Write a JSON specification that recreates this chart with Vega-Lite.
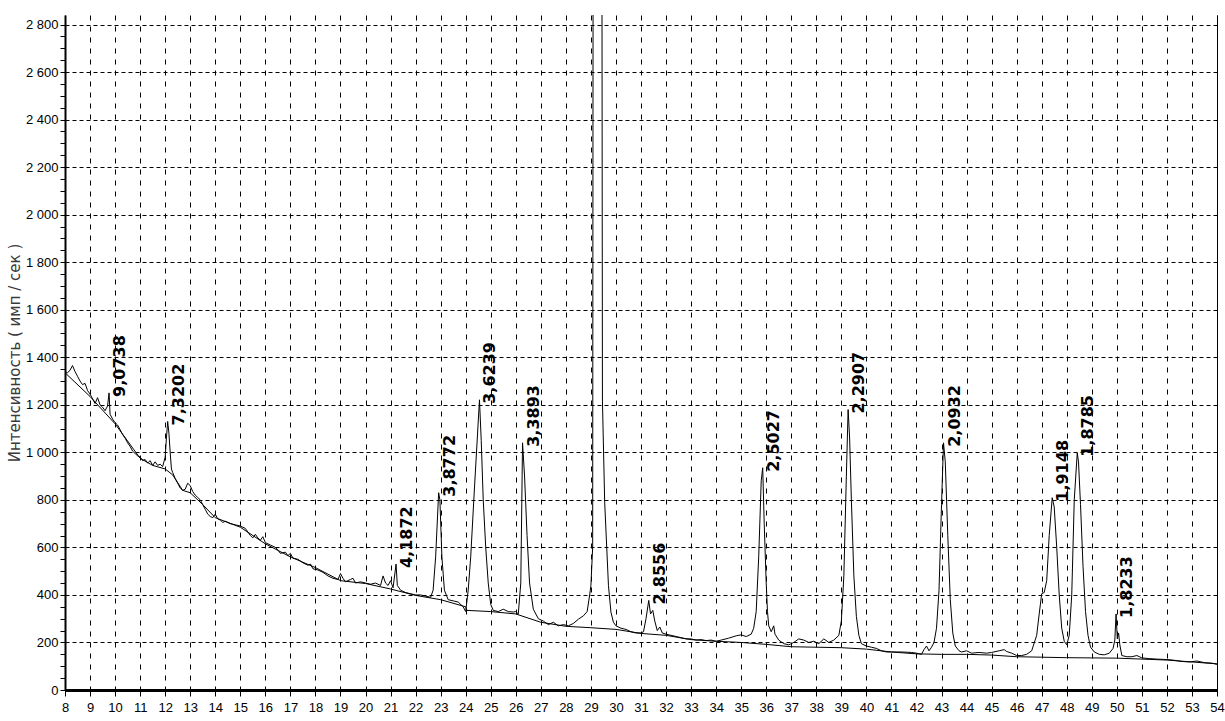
{
  "$schema": "https://vega.github.io/schema/vega-lite/v6.json",
  "width": 1152,
  "height": 675,
  "autosize": {"type": "none"},
  "padding": {"left": 65, "top": 15, "right": 8, "bottom": 31},
  "background": "white",
  "config": {"view": {"stroke": null}, "font": "Liberation Sans"},
  "datasets": {
    "scan": [
      {"x":8.0,"y":1340},{"x":8.1,"y":1335},{"x":8.2,"y":1345},{"x":8.3,"y":1365},{"x":8.4,"y":1340},{"x":8.5,"y":1320},{"x":8.6,"y":1300},{"x":8.7,"y":1285},{"x":8.8,"y":1290},{"x":8.9,"y":1260},
      {"x":9.0,"y":1245},{"x":9.1,"y":1225},{"x":9.2,"y":1205},{"x":9.3,"y":1230},{"x":9.4,"y":1200},{"x":9.5,"y":1190},{"x":9.6,"y":1175},{"x":9.7,"y":1195},{"x":9.76,"y":1250},{"x":9.8,"y":1160},{"x":9.9,"y":1140},
      {"x":10.0,"y":1125},{"x":10.1,"y":1115},{"x":10.2,"y":1095},{"x":10.3,"y":1075},{"x":10.4,"y":1060},{"x":10.5,"y":1040},{"x":10.6,"y":1025},{"x":10.7,"y":1005},{"x":10.8,"y":995},{"x":10.9,"y":985},
      {"x":11.0,"y":980},{"x":11.1,"y":965},{"x":11.2,"y":970},{"x":11.3,"y":955},{"x":11.4,"y":965},{"x":11.5,"y":945},{"x":11.6,"y":960},{"x":11.7,"y":945},{"x":11.8,"y":950},{"x":11.9,"y":940},
      {"x":12.0,"y":980},{"x":12.05,"y":1060},{"x":12.1,"y":1130},{"x":12.15,"y":1080},{"x":12.2,"y":1000},{"x":12.25,"y":930},{"x":12.3,"y":915},{"x":12.4,"y":890},{"x":12.5,"y":870},{"x":12.6,"y":850},{"x":12.7,"y":840},{"x":12.8,"y":845},{"x":12.9,"y":870},
      {"x":13.0,"y":860},{"x":13.1,"y":835},{"x":13.2,"y":820},{"x":13.3,"y":810},{"x":13.4,"y":800},{"x":13.5,"y":780},{"x":13.6,"y":760},{"x":13.7,"y":740},{"x":13.8,"y":730},{"x":13.9,"y":725},
      {"x":14.0,"y":740},{"x":14.1,"y":720},{"x":14.2,"y":715},{"x":14.3,"y":705},{"x":14.4,"y":710},{"x":14.6,"y":700},{"x":14.8,"y":695},{"x":15.0,"y":690},{"x":15.2,"y":680},{"x":15.3,"y":665},{"x":15.4,"y":650},{"x":15.5,"y":640},{"x":15.6,"y":655},{"x":15.7,"y":640},{"x":15.8,"y":630},{"x":15.9,"y":645},
      {"x":16.0,"y":620},{"x":16.2,"y":610},{"x":16.4,"y":600},{"x":16.5,"y":590},{"x":16.6,"y":575},{"x":16.8,"y":580},{"x":16.9,"y":565},{"x":17.0,"y":575},{"x":17.1,"y":555},{"x":17.3,"y":550},{"x":17.5,"y":535},{"x":17.7,"y":525},{"x":17.8,"y":530},{"x":17.9,"y":510},
      {"x":18.1,"y":505},{"x":18.3,"y":495},{"x":18.5,"y":480},{"x":18.7,"y":470},{"x":18.9,"y":465},{"x":19.0,"y":490},{"x":19.1,"y":470},{"x":19.2,"y":455},{"x":19.4,"y":465},{"x":19.5,"y":470},{"x":19.6,"y":450},{"x":19.8,"y":455},
      {"x":20.0,"y":450},{"x":20.2,"y":445},{"x":20.4,"y":450},{"x":20.6,"y":440},{"x":20.7,"y":480},{"x":20.8,"y":450},{"x":20.9,"y":440},{"x":21.0,"y":460},{"x":21.1,"y":430},{"x":21.22,"y":530},{"x":21.27,"y":440},{"x":21.4,"y":420},{"x":21.6,"y":410},{"x":21.8,"y":405},
      {"x":22.0,"y":400},{"x":22.2,"y":400},{"x":22.4,"y":395},{"x":22.6,"y":390},{"x":22.7,"y":420},{"x":22.8,"y":560},{"x":22.92,"y":830},{"x":22.97,"y":800},{"x":23.05,"y":560},{"x":23.15,"y":420},{"x":23.3,"y":380},{"x":23.5,"y":375},{"x":23.7,"y":370},{"x":23.9,"y":350},
      {"x":24.0,"y":330},{"x":24.1,"y":420},{"x":24.2,"y":560},{"x":24.35,"y":850},{"x":24.55,"y":1221},{"x":24.62,"y":1050},{"x":24.7,"y":800},{"x":24.8,"y":600},{"x":24.9,"y":450},{"x":25.0,"y":360},{"x":25.1,"y":335},{"x":25.3,"y":330},{"x":25.5,"y":340},{"x":25.7,"y":330},{"x":25.9,"y":328},
      {"x":26.0,"y":330},{"x":26.1,"y":320},{"x":26.2,"y":450},{"x":26.27,"y":1040},{"x":26.35,"y":900},{"x":26.45,"y":650},{"x":26.55,"y":450},{"x":26.7,"y":340},{"x":26.9,"y":300},
      {"x":27.1,"y":290},{"x":27.3,"y":275},{"x":27.5,"y":285},{"x":27.7,"y":270},{"x":27.9,"y":275},{"x":28.1,"y":270},{"x":28.3,"y":280},{"x":28.5,"y":298},{"x":28.7,"y":312},{"x":28.85,"y":330},{"x":28.95,"y":400},
      {"x":29.0,"y":440},{"x":29.07,"y":600},{"x":29.1,"y":5000},{"x":29.3,"y":6000},{"x":29.42,"y":5000},{"x":29.46,"y":1220},{"x":29.55,"y":790},{"x":29.7,"y":440},{"x":29.8,"y":327},{"x":29.9,"y":285},
      {"x":30.0,"y":270},{"x":30.2,"y":260},{"x":30.4,"y":255},{"x":30.6,"y":245},{"x":30.8,"y":240},{"x":31.0,"y":240},{"x":31.1,"y":245},{"x":31.2,"y":300},{"x":31.31,"y":377},{"x":31.38,"y":320},{"x":31.47,"y":335},{"x":31.55,"y":290},{"x":31.65,"y":250},{"x":31.75,"y":265},{"x":31.85,"y":240},
      {"x":32.0,"y":235},{"x":32.2,"y":230},{"x":32.4,"y":225},{"x":32.6,"y":220},{"x":32.8,"y":215},{"x":33.0,"y":215},{"x":33.2,"y":210},{"x":33.4,"y":212},{"x":33.6,"y":208},{"x":33.8,"y":210},
      {"x":34.0,"y":205},{"x":34.2,"y":210},{"x":34.5,"y":218},{"x":34.8,"y":228},{"x":35.0,"y":232},{"x":35.2,"y":225},{"x":35.4,"y":235},{"x":35.5,"y":260},{"x":35.6,"y":330},{"x":35.7,"y":560},{"x":35.8,"y":880},{"x":35.86,"y":935},{"x":35.92,"y":700},
      {"x":36.0,"y":450},{"x":36.05,"y":330},{"x":36.1,"y":270},{"x":36.2,"y":245},{"x":36.3,"y":270},{"x":36.35,"y":235},{"x":36.5,"y":210},{"x":36.7,"y":195},{"x":36.9,"y":190},
      {"x":37.1,"y":200},{"x":37.3,"y":215},{"x":37.5,"y":210},{"x":37.7,"y":200},{"x":37.9,"y":205},{"x":38.1,"y":195},{"x":38.3,"y":215},{"x":38.5,"y":200},{"x":38.7,"y":210},{"x":38.9,"y":230},
      {"x":39.0,"y":290},{"x":39.1,"y":480},{"x":39.2,"y":900},{"x":39.27,"y":1180},{"x":39.33,"y":1060},{"x":39.4,"y":800},{"x":39.5,"y":480},{"x":39.6,"y":310},{"x":39.7,"y":230},{"x":39.8,"y":195},
      {"x":40.0,"y":185},{"x":40.2,"y":180},{"x":40.4,"y":175},{"x":40.6,"y":165},{"x":40.8,"y":160},{"x":41.0,"y":160},{"x":41.4,"y":160},{"x":41.8,"y":158},
      {"x":42.0,"y":155},{"x":42.2,"y":150},{"x":42.3,"y":170},{"x":42.4,"y":185},{"x":42.5,"y":165},{"x":42.6,"y":180},{"x":42.7,"y":200},{"x":42.8,"y":260},{"x":42.9,"y":420},
      {"x":43.0,"y":780},{"x":43.08,"y":1040},{"x":43.15,"y":960},{"x":43.25,"y":650},{"x":43.35,"y":380},{"x":43.45,"y":240},{"x":43.55,"y":185},{"x":43.7,"y":165},{"x":43.8,"y":160},
      {"x":44.0,"y":165},{"x":44.2,"y":155},{"x":44.5,"y":158},{"x":44.8,"y":155},{"x":45.0,"y":158},{"x":45.3,"y":165},{"x":45.5,"y":170},{"x":45.6,"y":162},{"x":45.8,"y":155},
      {"x":46.0,"y":145},{"x":46.2,"y":145},{"x":46.4,"y":150},{"x":46.6,"y":165},{"x":46.8,"y":230},{"x":46.9,"y":320},{"x":47.0,"y":405},{"x":47.1,"y":410},{"x":47.2,"y":460},{"x":47.3,"y":650},{"x":47.42,"y":809},{"x":47.5,"y":770},{"x":47.6,"y":600},{"x":47.7,"y":400},{"x":47.8,"y":260},{"x":47.9,"y":205},
      {"x":48.0,"y":190},{"x":48.1,"y":230},{"x":48.2,"y":400},{"x":48.3,"y":800},{"x":48.42,"y":998},{"x":48.47,"y":960},{"x":48.55,"y":780},{"x":48.65,"y":520},{"x":48.75,"y":330},{"x":48.85,"y":230},{"x":48.95,"y":180},
      {"x":49.1,"y":160},{"x":49.3,"y":150},{"x":49.5,"y":148},{"x":49.7,"y":155},{"x":49.85,"y":175},{"x":49.92,"y":210},{"x":49.97,"y":320},{"x":50.02,"y":215},{"x":50.07,"y":240},{"x":50.12,"y":190},{"x":50.2,"y":145},
      {"x":50.4,"y":140},{"x":50.6,"y":140},{"x":50.8,"y":145},{"x":51.0,"y":135},{"x":51.3,"y":132},{"x":51.6,"y":130},{"x":52.0,"y":128},{"x":52.3,"y":125},{"x":52.6,"y":120},{"x":52.9,"y":118},{"x":53.2,"y":122},{"x":53.5,"y":115},{"x":53.8,"y":113},{"x":54.0,"y":108}
    ],
    "bg": [
      {"x":8,"y":1335},{"x":9,"y":1235},{"x":10,"y":1120},{"x":11,"y":975},{"x":11.5,"y":945},{"x":12,"y":930},{"x":12.3,"y":905},{"x":12.7,"y":840},{"x":13,"y":830},{"x":13.5,"y":780},{"x":14,"y":725},{"x":15,"y":685},{"x":16,"y":615},{"x":17,"y":560},{"x":18,"y":515},{"x":19,"y":460},{"x":20,"y":448},{"x":21,"y":425},{"x":22,"y":398},{"x":23,"y":380},{"x":24,"y":350},{"x":24.05,"y":335},{"x":25,"y":330},{"x":26,"y":320},{"x":27,"y":285},{"x":28,"y":268},{"x":29,"y":262},{"x":30,"y":255},{"x":31,"y":238},{"x":32,"y":230},{"x":33,"y":212},{"x":34,"y":205},{"x":35,"y":200},{"x":36,"y":192},{"x":37,"y":182},{"x":38,"y":180},{"x":39,"y":178},{"x":40,"y":172},{"x":41,"y":160},{"x":42,"y":152},{"x":43,"y":150},{"x":44,"y":150},{"x":45,"y":147},{"x":46,"y":140},{"x":47,"y":138},{"x":48,"y":136},{"x":49,"y":135},{"x":50,"y":134},{"x":51,"y":130},{"x":52,"y":126},{"x":53,"y":118},{"x":54,"y":110}
    ],
    "peaks": [
      {"x":9.76,"y":1250,"label":"9,0738"},
      {"x":12.1,"y":1130,"label":"7,3202"},
      {"x":21.22,"y":530,"label":"4,1872"},
      {"x":22.92,"y":830,"label":"3,8772"},
      {"x":24.55,"y":1221,"label":"3,6239"},
      {"x":26.27,"y":1040,"label":"3,3893"},
      {"x":31.31,"y":377,"label":"2,8556"},
      {"x":35.86,"y":935,"label":"2,5027"},
      {"x":39.27,"y":1180,"label":"2,2907"},
      {"x":43.08,"y":1040,"label":"2,0932"},
      {"x":47.42,"y":809,"label":"1,9148"},
      {"x":48.42,"y":998,"label":"1,8785"},
      {"x":49.97,"y":320,"label":"1,8233"}
    ]
  },
  "encoding": {
    "x": {
      "field": "x", "type": "quantitative",
      "scale": {"domain": [8, 54], "nice": false, "zero": false},
      "axis": {
        "values": [8,9,10,11,12,13,14,15,16,17,18,19,20,21,22,23,24,25,26,27,28,29,30,31,32,33,34,35,36,37,38,39,40,41,42,43,44,45,46,47,48,49,50,51,52,53,54],
        "title": null, "grid": true, "gridColor": "black", "gridDash": [5, 6], "gridWidth": 1, "gridOpacity": 1,
        "domainColor": "black", "domainWidth": 3, "tickColor": "black", "tickSize": 6, "tickWidth": 1,
        "labelFontSize": 13, "labelColor": "black", "labelPadding": 5, "labelFont": "Liberation Sans",
        "labelFlush": false, "labelOverlap": false
      }
    }
  },
  "layer": [
    {
      "data": {"name": "scan"},
      "mark": {"type": "line", "color": "black", "strokeWidth": 1, "clip": true},
      "encoding": {
        "y": {
          "field": "y", "type": "quantitative",
          "scale": {"domain": [0, 2840], "nice": false, "zero": true},
          "axis": {
            "orient": "left",
            "values": [0,200,400,600,800,1000,1200,1400,1600,1800,2000,2200,2400,2600,2800],
            "title": "Интенсивность ( имп / сек )",
            "grid": true, "gridColor": "black", "gridDash": [4, 3], "gridWidth": 1, "gridOpacity": 1,
            "domainColor": "black", "domainWidth": 2, "tickColor": "black", "tickSize": 5, "tickWidth": 1,
            "labelFontSize": 13, "labelColor": "black", "labelPadding": 2, "labelFont": "Liberation Sans",
            "labelExpr": "replace(format(datum.value, ','), ',', ' ')",
            "titleFontSize": 15, "titleFontWeight": "normal", "titleColor": "#3a3a3a", "titlePadding": 3, "titleFont": "DejaVu Sans"
          }
        }
      }
    },
    {
      "data": {"name": "bg"},
      "mark": {"type": "line", "color": "black", "strokeWidth": 1, "clip": true},
      "encoding": {
        "y": {
          "field": "y", "type": "quantitative",
          "scale": {"domain": [0, 2840], "nice": false, "zero": true},
          "axis": {
            "orient": "left",
            "values": [50,100,150,250,300,350,450,500,550,650,700,750,850,900,950,1050,1100,1150,1250,1300,1350,1450,1500,1550,1650,1700,1750,1850,1900,1950,2050,2100,2150,2250,2300,2350,2450,2500,2550,2650,2700,2750],
            "title": null, "labels": false, "grid": false, "domain": false,
            "tickColor": "black", "tickSize": 5, "tickWidth": 1
          }
        }
      }
    },
    {
      "data": {"name": "peaks"},
      "mark": {"type": "text", "angle": 270, "align": "left", "baseline": "top", "dx": -4, "dy": 3, "font": "DejaVu Sans", "fontWeight": "bold", "fontSize": 16, "color": "black"},
      "encoding": {
        "y": {
          "field": "y", "type": "quantitative",
          "scale": {"domain": [0, 2840], "nice": false, "zero": true},
          "axis": {"orient": "right", "labels": false, "ticks": false, "grid": false, "domain": true, "domainColor": "black", "domainWidth": 1, "title": null}
        },
        "text": {"field": "label"}
      }
    }
  ],
  "resolve": {"axis": {"y": "independent"}}
}
